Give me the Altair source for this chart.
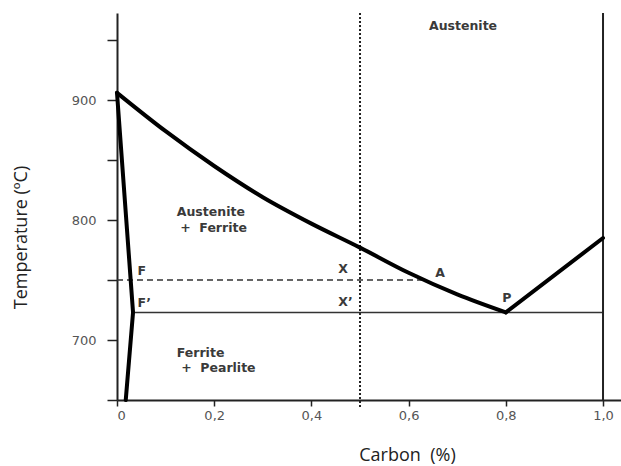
import altair as alt
import pandas as pd

# --- data ---
a3_c = [0, 0.1, 0.2, 0.3, 0.4, 0.5, 0.6, 0.7, 0.8]
a3_t = [906, 874, 845, 819, 797, 777, 756, 738, 723]
acm_c = [0.8, 1.0]
acm_t = [723, 785]
solvus_c = [0, 0.033, 0.018]
solvus_t = [906, 723, 650]

eutectoid_t = 723
eutectoid_c = [0.033, 1.0]
dashed_t = 750
dashed_c = [0.0, 0.63]
dotted_c = 0.5
right_c = 1.0

region_text = ["Austenite", "+\u00a0 Ferrite", "Ferrite", "+\u00a0 Pearlite"]
region_c = [0.123, 0.13, 0.123, 0.132]
region_t = [806.7, 793, 689, 676.7]

point_text = ["Austenite", "F", "F\u2019", "X", "X\u2019", "A", "P"]
point_c = [0.712, 0.051, 0.056, 0.465, 0.47, 0.665, 0.802]
point_t = [962, 757.5, 731, 759, 731.7, 756, 735]

x_ticks = [0, 0.2, 0.4, 0.6, 0.8, 1.0]
y_ticks = [650, 700, 750, 800, 850, 900, 950]

W, H = 504, 387
xs = alt.Scale(domain=[0, 1.037], nice=False, zero=False)
ys = alt.Scale(domain=[650, 972.5], nice=False, zero=False)

a3 = pd.DataFrame({"c": a3_c, "t": a3_t, "i": list(range(len(a3_c)))})
others = []
for name, cs, ts in [("acm", acm_c, acm_t), ("solvus", solvus_c, solvus_t)]:
    for i, (c, t) in enumerate(zip(cs, ts)):
        others.append({"seg": name, "i": i, "c": c, "t": t})
others = pd.DataFrame(others)

x_axis = alt.Axis(
    values=x_ticks,
    labelExpr="datum.value == 0 ? '0' : replace(format(datum.value, '.1f'), '.', ',')",
    title="Carbon\u00a0\u00a0(%)",
    titleX=290, titleY=55, titleAlign="center", titleBaseline="middle",
    tickSize=6, labelPadding=3,
)
y_axis = alt.Axis(
    values=y_ticks,
    labelExpr="datum.value % 100 == 0 ? datum.label : ''",
    title="Temperature (ºC)",
    titleX=-96, titleY=224, titleAlign="center", titleBaseline="middle", titleAngle=270,
    tickSize=10, labelPadding=11,
)

line_style = dict(color="black", strokeWidth=4, strokeJoin="round", strokeCap="round")

a3_line = alt.Chart(a3).mark_line(interpolate="monotone", **line_style).encode(
    x=alt.X("c:Q", scale=xs, axis=x_axis),
    y=alt.Y("t:Q", scale=ys, axis=y_axis),
    order="i:Q",
)

other_lines = alt.Chart(others).mark_line(**line_style).encode(
    x=alt.X("c:Q", scale=xs),
    y=alt.Y("t:Q", scale=ys),
    detail="seg:N",
    order="i:Q",
)

eut = alt.Chart(pd.DataFrame({"c": [eutectoid_c[0]], "c2": [eutectoid_c[1]], "t": [eutectoid_t]})).mark_rule(
    color="#333", strokeWidth=1.5
).encode(x=alt.X("c:Q", scale=xs), x2="c2:Q", y=alt.Y("t:Q", scale=ys))

dash = alt.Chart(pd.DataFrame({"c": [dashed_c[0]], "c2": [dashed_c[1]], "t": [dashed_t]})).mark_rule(
    color="#333", strokeWidth=1.5, strokeDash=[6, 4]
).encode(x=alt.X("c:Q", scale=xs), x2="c2:Q", y=alt.Y("t:Q", scale=ys))

dot = alt.Chart(pd.DataFrame({"c": [dotted_c]})).mark_rule(
    color="#222", strokeWidth=2, strokeDash=[2, 2]
).encode(x=alt.X("c:Q", scale=xs), y=alt.value(0), y2=alt.value(H + 7))

right = alt.Chart(pd.DataFrame({"c": [right_c]})).mark_rule(
    color="#222", strokeWidth=2
).encode(x=alt.X("c:Q", scale=xs), y=alt.value(0), y2=alt.value(H))

txt_style = dict(font="DejaVu Sans", fontSize=12.5, fontWeight="bold", color="#3a3a3a", baseline="middle")

region = alt.Chart(pd.DataFrame({"label": region_text, "c": region_c, "t": region_t})).mark_text(
    align="left", **txt_style
).encode(x=alt.X("c:Q", scale=xs), y=alt.Y("t:Q", scale=ys), text="label:N")

points = alt.Chart(pd.DataFrame({"label": point_text, "c": point_c, "t": point_t})).mark_text(
    align="center", **txt_style
).encode(x=alt.X("c:Q", scale=xs), y=alt.Y("t:Q", scale=ys), text="label:N")

chart = alt.layer(eut, dash, dot, right, a3_line, other_lines, region, points).properties(
    width=W, height=H,
    padding={"left": 117, "top": 13, "right": 0, "bottom": 66},
    autosize=alt.AutoSizeParams(type="none"),
).configure_view(stroke=None).configure_axis(
    grid=False,
    domainColor="#222", domainWidth=2,
    tickColor="#222", tickWidth=1.5,
    labelFont="DejaVu Sans", labelFontSize=13, labelColor="#555",
    titleFont="Open Sans", titleFontSize=18, titleFontWeight="normal", titleColor="#222",
)

chart.save("out.html", embed_options={"renderer": "svg", "actions": False})
